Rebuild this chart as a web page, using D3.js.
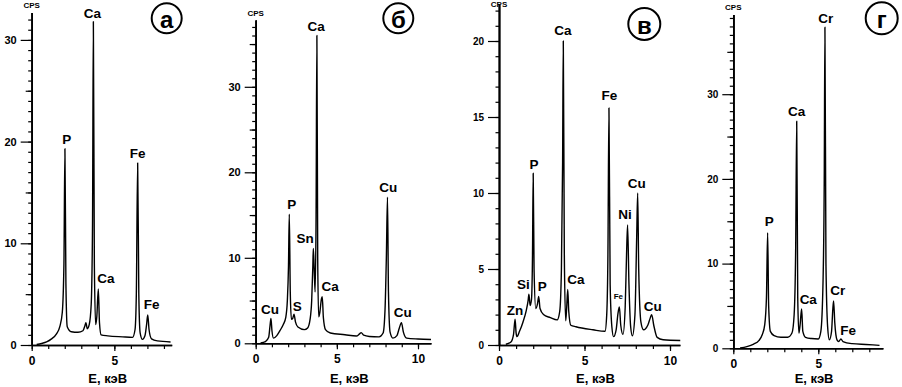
<!DOCTYPE html>
<html>
<head>
<meta charset="utf-8">
<script src="https://cdn.jsdelivr.net/npm/d3@7"></script>
<style>
  body { margin: 0; background: #fff; }
  svg { display: block; font-family: "Liberation Sans", Arial, sans-serif; font-weight: bold; }
</style>
</head>
<body>
<svg id="chart" width="902" height="387"></svg>
<script>
// EDX spectra: [E, keV ; CPS]
const spectrumA = [
  [0.3,0.05],[0.6,0.15],[0.9,0.3],[1.2,0.6],[1.5,1.1],[1.7,1.8],[1.85,3.2],[1.95,8],[2.01,19.3],[2.07,6],
  [2.15,1.8],[2.4,1.3],[2.8,1.25],[3.1,1.4],[3.22,1.9],[3.28,2.2],[3.36,1.6],[3.48,2.0],[3.6,4],[3.68,12],
  [3.73,31.8],[3.79,8],[3.87,2.0],[3.94,2.8],[4.03,5.5],[4.1,2.2],[4.2,1.0],[4.6,0.9],[5.5,0.8],[6.1,0.75],
  [6.25,1.5],[6.33,5],[6.41,17.9],[6.48,5],[6.56,1.2],[6.7,0.55],[6.85,0.9],[6.95,2],[7.02,2.95],[7.1,1.5],
  [7.25,0.6],[7.6,0.4],[8.4,0.3]
];
const spectrumB = [
  [0.3,0.05],[0.6,0.2],[0.8,0.7],[0.88,2],[0.94,2.9],[1.0,1.5],[1.1,0.6],[1.3,0.9],[1.5,1.5],[1.7,2.2],
  [1.85,3.0],[1.95,5],[2.02,9],[2.07,15.1],[2.13,6],[2.2,2.8],[2.28,2.9],[2.36,3.4],[2.45,2.5],[2.6,1.9],
  [3.0,1.6],[3.2,1.8],[3.35,2.8],[3.45,5],[3.52,9],[3.55,11.1],[3.6,9],[3.66,6],[3.72,15],[3.77,36],
  [3.82,10],[3.88,3.1],[3.95,3.6],[4.05,5.2],[4.1,5.45],[4.17,3],[4.3,1.6],[4.6,1.2],[5.5,1.0],[6.2,0.85],
  [6.4,1.1],[6.5,1.25],[6.65,0.95],[7.0,0.8],[7.6,0.75],[7.85,1.2],[7.97,4],[8.05,10],[8.12,17.1],[8.18,6],
  [8.28,1.3],[8.45,0.6],[8.7,0.9],[8.85,1.8],[8.98,2.4],[9.1,1.3],[9.3,0.6],[10,0.5],[10.8,0.45]
];
const spectrumV = [
  [0.4,0.05],[0.7,0.2],[0.85,0.7],[0.94,1.7],[1.0,0.8],[1.05,0.55],[1.2,0.9],[1.4,1.5],[1.6,2.3],[1.7,2.9],
  [1.75,3.35],[1.82,2.6],[1.9,3],[1.96,6],[2.0,11.3],[2.05,5],[2.15,2.4],[2.25,2.7],[2.32,3.2],[2.4,2.4],
  [2.6,2.0],[3.0,1.8],[3.4,1.65],[3.55,2.2],[3.65,5],[3.72,12],[3.76,20],[3.82,6],[3.9,1.6],[3.96,2.5],
  [4.02,3.65],[4.08,2.2],[4.2,1.3],[4.5,1.2],[5.5,1.0],[6.2,0.9],[6.3,2],[6.37,6],[6.43,15.6],[6.5,4],
  [6.6,1.2],[6.7,0.55],[6.85,1.0],[6.96,2.1],[7.04,2.5],[7.12,1.3],[7.25,0.7],[7.38,2.5],[7.46,6],[7.52,7.9],
  [7.6,4],[7.7,1.2],[7.8,0.6],[7.95,2],[8.05,7],[8.11,10],[8.17,5],[8.3,1.5],[8.45,1.0],[8.7,1.3],
  [8.85,1.8],[8.93,2.0],[9.05,1.3],[9.25,0.5],[9.6,0.35],[10.6,0.3]
];
const spectrumG = [
  [0.4,0.05],[0.8,0.2],[1.2,0.5],[1.5,0.9],[1.7,1.6],[1.85,2.8],[1.95,6],[2.02,13.65],[2.08,5],[2.18,2.0],
  [2.4,1.5],[2.8,1.3],[3.2,1.3],[3.45,1.8],[3.58,4],[3.67,12],[3.73,26.8],[3.79,6],[3.86,1.8],[3.93,2.8],
  [4.02,4.65],[4.09,2],[4.25,1.3],[4.6,1.15],[5.0,1.1],[5.15,2],[5.28,8],[5.35,20],[5.39,37.9],[5.45,10],
  [5.55,2.5],[5.65,1.0],[5.78,2],[5.85,4.5],[5.9,5.6],[5.97,3],[6.1,1.0],[6.2,0.8],[6.33,1.1],[6.45,0.8],
  [7.0,0.55],[7.8,0.45],[8.6,0.35]
];

// peak labels: [E, CPS, element]
const labelsA = [[2.12,20.2,"P"],[3.67,32.6,"Ca"],[6.41,18.85,"Fe"],[4.49,6.56,"Ca"],[7.26,4.03,"Fe"]];
const labelsB = [[3.72,37.1,"Ca"],[8.17,18.2,"Cu"],[2.22,16.26,"P"],[3.04,12.2,"Sn"],[4.58,6.7,"Ca"],
  [2.56,4.36,"S"],[0.88,3.9,"Cu"],[9.06,3.63,"Cu"]];
const labelsV = [[3.73,20.7,"Ca"],[6.45,16.4,"Fe"],[2.05,11.9,"P"],[8.05,10.6,"Cu"],[7.37,8.6,"Ni"],
  [1.42,4.0,"Si"],[2.53,3.84,"P"],[4.5,4.32,"Ca"],[0.94,2.26,"Zn"],[8.99,2.52,"Cu"]];
const smallLabelsV = [[6.98,3.22,"Fe"]];
const labelsG = [[5.44,38.96,"Cr"],[3.73,27.9,"Ca"],[2.12,14.95,"P"],[6.14,6.8,"Cr"],[4.41,5.79,"Ca"],[6.76,2.16,"Fe"]];

const panelLetters = ["а", "б", "в", "г"];
const yTicksA = [0, 10, 20, 30], yTicksB = [0, 10, 20, 30], yTicksV = [0, 5, 10, 15, 20], yTicksG = [0, 10, 20, 30];
const xTicksA = [0, 5], xTicksB = [0, 5, 10], xTicksV = [0, 5, 10], xTicksG = [0, 5];
const yUnit = "CPS";
const xTitle = "E, кэВ";

const panels = [
  { data: spectrumA, labels: labelsA, small: [], yTicks: yTicksA, yMid: [5, 15, 25], xTicks: xTicksA,
    xMax: 8.47, yMax: 32.7, x0: 31.7, kx: 16.53, y0: 345, ky: 10.17, circle: [166.7, 18.3, 15], fs: 11 },
  { data: spectrumB, labels: labelsB, small: [], yTicks: yTicksB, yMid: [5, 15, 25, 35], xTicks: xTicksB,
    xMax: 10.8, yMax: 37.8, x0: 255.7, kx: 16.23, y0: 343.3, ky: 8.55, circle: [398.3, 18.3, 15], fs: 11 },
  { data: spectrumV, labels: labelsV, small: smallLabelsV, yTicks: yTicksV, yMid: [], xTicks: xTicksV,
    xMax: 10.58, yMax: 22.4, x0: 499, kx: 17.1, y0: 345, ky: 15.2, circle: [644.3, 24, 16], fs: 10 },
  { data: spectrumG, labels: labelsG, small: [], yTicks: yTicksG, yMid: [5, 15, 25, 35], xTicks: xTicksG,
    xMax: 8.8, yMax: 39.4, x0: 733.3, kx: 17.0, y0: 348.3, ky: 8.47, circle: [881.7, 18.3, 16], fs: 10 }
];

const svg = d3.select("#chart");

panels.forEach((p, i) => {
  const x = d3.scaleLinear().domain([0, p.xMax]).range([p.x0, p.x0 + p.xMax * p.kx]);
  const y = d3.scaleLinear().domain([0, p.yMax]).range([p.y0, p.y0 - p.yMax * p.ky]);
  const g = svg.append("g");

  // y axis: minor, medium, major
  const yAx = g.append("g").attr("transform", `translate(${p.x0},0)`);
  yAx.append("g")
    .call(d3.axisLeft(y).tickValues(d3.range(0, p.yMax, 1)).tickSize(3.5).tickSizeOuter(0).tickFormat(""));
  yAx.append("g")
    .call(d3.axisLeft(y).tickValues(p.yMid).tickSize(6).tickSizeOuter(0).tickFormat(""));
  yAx.append("g")
    .call(d3.axisLeft(y).tickValues(p.yTicks).tickSize(11).tickSizeOuter(0).tickPadding(4))
    .selectAll("text").style("font-size", p.fs + "px").style("font-weight", "bold");

  // x axis
  const xAx = g.append("g").attr("transform", `translate(0,${p.y0})`);
  xAx.append("g")
    .call(d3.axisBottom(x).tickValues(d3.range(0, p.xMax, 1)).tickSize(4).tickSizeOuter(0).tickFormat(""));
  xAx.append("g")
    .call(d3.axisBottom(x).tickValues(p.xTicks).tickSize(6).tickSizeOuter(0).tickPadding(5))
    .selectAll("text").style("font-size", "12px").style("font-weight", "bold");

  g.selectAll(".domain").attr("stroke", "#000").attr("stroke-width", 1.6);
  g.selectAll(".tick line").attr("stroke", "#000").attr("stroke-width", 1.2);
  g.selectAll(".tick text").attr("fill", "#000").attr("font-family", null);

  // spectrum
  g.append("path")
    .datum(p.data)
    .attr("fill", "none")
    .attr("stroke", "#000")
    .attr("stroke-width", 1.4)
    .attr("stroke-linejoin", "round")
    .attr("d", d3.line().x(d => x(d[0])).y(d => y(d[1])).curve(d3.curveMonotoneX));

  // peak labels
  g.selectAll("text.peak")
    .data(p.labels)
    .enter().append("text")
    .attr("class", "peak")
    .attr("x", d => x(d[0]))
    .attr("y", d => y(d[1]))
    .attr("text-anchor", "middle")
    .attr("dominant-baseline", "central")
    .style("font-size", "13.5px")
    .text(d => d[2]);
  g.selectAll("text.small")
    .data(p.small)
    .enter().append("text")
    .attr("class", "small")
    .attr("x", d => x(d[0]))
    .attr("y", d => y(d[1]))
    .attr("text-anchor", "middle")
    .attr("dominant-baseline", "central")
    .style("font-size", "8px")
    .text(d => d[2]);

  // axis captions (kept inside the picture)
  g.append("text")
    .attr("x", p.x0)
    .attr("y", Math.max(4, y(p.yMax) - 7))
    .attr("text-anchor", "middle")
    .attr("dominant-baseline", "central")
    .style("font-size", "8px")
    .text(yUnit);
  g.append("text")
    .attr("x", (x.range()[0] + x.range()[1]) / 2 + 6)
    .attr("y", 378)
    .attr("text-anchor", "middle")
    .attr("dominant-baseline", "central")
    .style("font-size", "13px")
    .text(xTitle);

  // panel letter in a circle
  const [cx, cy, r] = p.circle;
  g.append("circle").attr("cx", cx).attr("cy", cy).attr("r", r)
    .attr("fill", "#fff").attr("stroke", "#000").attr("stroke-width", 2);
  g.append("text")
    .attr("x", cx).attr("y", cy + 1)
    .attr("text-anchor", "middle")
    .attr("dominant-baseline", "central")
    .style("font-size", "24px")
    .text(panelLetters[i]);
});
</script>
</body>
</html>
